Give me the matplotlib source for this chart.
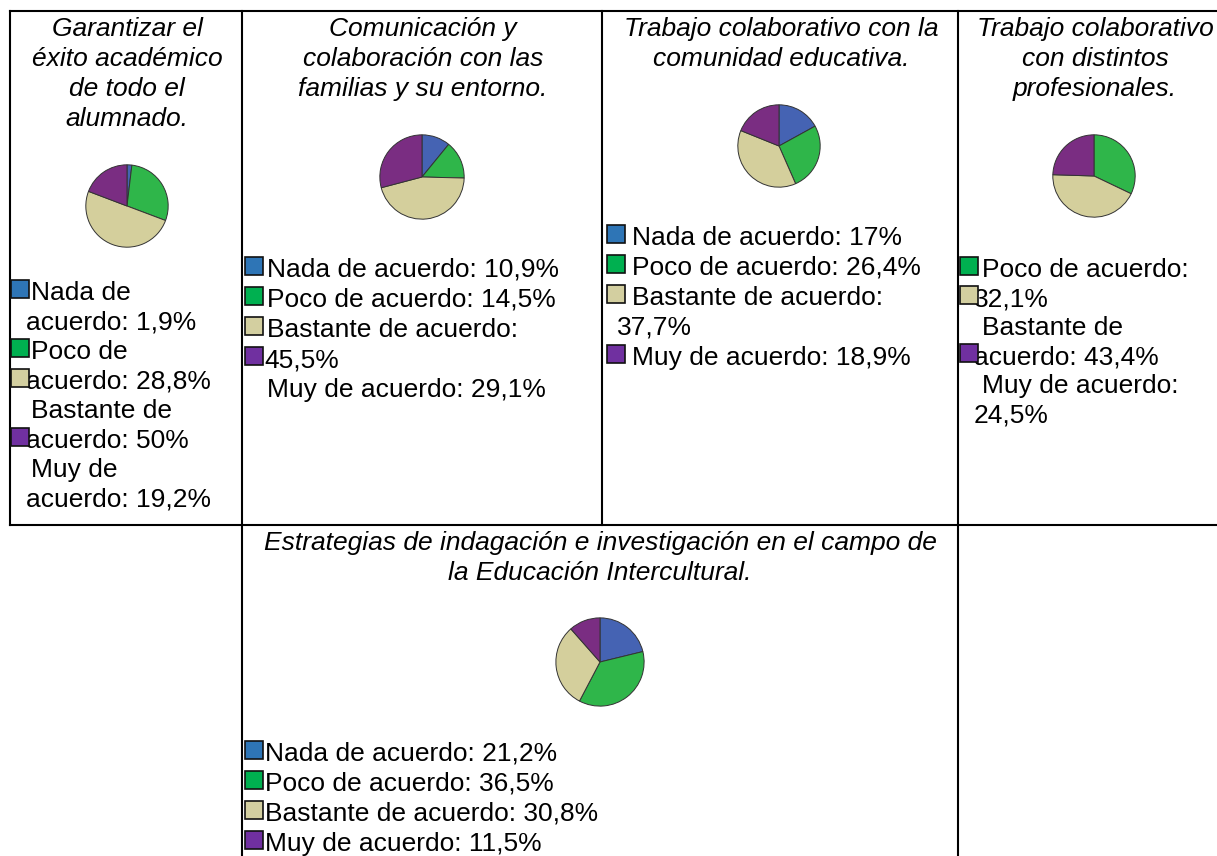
import textwrap
import matplotlib
matplotlib.use('Agg')
import matplotlib.pyplot as plt
from matplotlib.patches import Rectangle

plt.rcParams['font.family'] = ['Liberation Sans', 'DejaVu Sans']

# datos de las cinco competencias
labels = ['Nada de acuerdo', 'Poco de acuerdo', 'Bastante de acuerdo', 'Muy de acuerdo']
exito = [1.9, 28.8, 50, 19.2]
familias = [10.9, 14.5, 45.5, 29.1]
comunidad = [17, 26.4, 37.7, 18.9]
profesionales = [0, 32.1, 43.4, 24.5]
indagacion = [21.2, 36.5, 30.8, 11.5]

titles = ['Garantizar el\néxito académico\nde todo el\nalumnado.',
          'Comunicación y\ncolaboración con las\nfamilias y su entorno.',
          'Trabajo colaborativo con la\ncomunidad educativa.',
          'Trabajo colaborativo\ncon distintos\nprofesionales.',
          'Estrategias de indagación e investigación en el campo de\nla Educación Intercultural.']
series = [exito, familias, comunidad, profesionales, indagacion]

pie_colors = ['#4563b3', '#2fb64a', '#d4cf9c', '#7a2d82']
box_colors = ['#2e75b6', '#00b050', '#d3cfa0', '#7030a0']

W, H = 1217, 856
fig = plt.figure(figsize=(W / 100, H / 100), dpi=100)
ax = fig.add_axes([0, 0, 1, 1])
ax.set_xlim(0, W)
ax.set_ylim(H, 0)
ax.axis('off')

# bordes de la tabla
lw = 1.5
ax.plot([10, W], [11, 11], color='black', lw=lw)
ax.plot([10, W], [525, 525], color='black', lw=lw)
ax.plot([10, 10], [11, 525], color='black', lw=lw)
ax.plot([242, 242], [11, H], color='black', lw=lw)
ax.plot([602, 602], [11, 525], color='black', lw=lw)
ax.plot([958, 958], [11, H], color='black', lw=lw)

# posiciones de cada celda
title_x = [127, 423, 781, 1095, 600]
title_y = [36, 36, 36, 36, 550]
pie_pos = [(127, 206, 42), (422, 177, 43), (779, 146, 42), (1094, 176, 42), (600, 662, 45)]
wrap_w = [14, 22, 22, 17, 40]
leg_y0 = [300, 277, 245, 277, 761]
leg_dy = [29.5, 30, 30, 29, 30]
sq_x = [11, 245, 607, 960, 245]
first_x = [31, 267, 632, 982, 265]
cont_x = [26, 264, 617, 974, 265]
sq_rows = [[0, 2, 3, 5], [0, 1, 2, 3], [0, 1, 2, 4], [0, 1, 3], [0, 1, 2, 3]]

fs = 19


def fmt(v):
    if float(v).is_integer():
        return '%d%%' % v
    return ('%.1f%%' % v).replace('.', ',')


for i in range(5):
    # título
    for j, line in enumerate(titles[i].split('\n')):
        ax.text(title_x[i], title_y[i] + j * 30, line, ha='center', va='baseline',
                fontsize=fs, style='italic')

    vals = series[i]
    keep = [k for k in range(4) if vals[k] > 0]

    # pastel
    cx, cy, r = pie_pos[i]
    pax = fig.add_axes([(cx - r) / W, 1 - (cy + r) / H, 2 * r / W, 2 * r / H])
    pax.pie([vals[k] for k in keep], colors=[pie_colors[k] for k in keep],
            startangle=90, counterclock=False, radius=1,
            wedgeprops=dict(edgecolor='#333333', linewidth=0.7))
    pax.set_xlim(-1.02, 1.02)
    pax.set_ylim(-1.02, 1.02)
    pax.axis('off')

    # leyenda
    row = 0
    for k in keep:
        lines = textwrap.wrap('%s: %s' % (labels[k], fmt(vals[k])), wrap_w[i])
        for j, line in enumerate(lines):
            x = first_x[i] if j == 0 else cont_x[i]
            ax.text(x, leg_y0[i] + row * leg_dy[i], line, ha='left', va='baseline',
                    fontsize=fs)
            row += 1
    for n, k in enumerate(keep):
        yb = leg_y0[i] + sq_rows[i][n] * leg_dy[i]
        ax.add_patch(Rectangle((sq_x[i], yb - 20), 18, 18, facecolor=box_colors[k],
                               edgecolor='#111111', linewidth=1.2, zorder=3))

fig.savefig('out.png', dpi=100)
